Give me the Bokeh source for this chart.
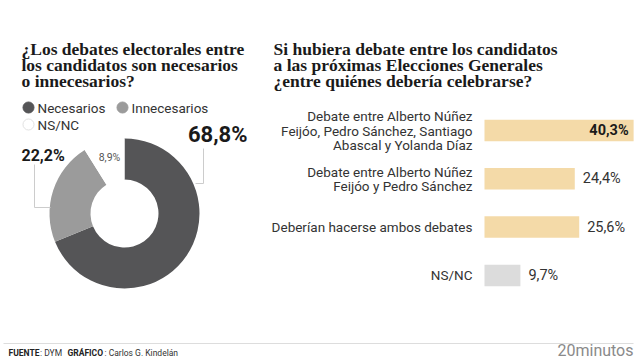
import numpy as np
from bokeh.plotting import figure
from bokeh.models import Range1d, ColumnDataSource
from bokeh.core.properties import value
from bokeh.embed import file_html
from bokeh.resources import INLINE

# ---------------- data ----------------
donut_labels = ["Necesarios", "Innecesarios", "NS/NC"]
donut_values = [68.8, 22.2, 8.9]
donut_colors = ["#555557", "#9b9b9b", "#ffffff"]

bar_labels = [
    ["Debate entre Alberto Núñez", "Feijóo, Pedro Sánchez, Santiago", "Abascal y Yolanda Díaz"],
    ["Debate entre Alberto Núñez", "Feijóo y Pedro Sánchez"],
    ["Deberían hacerse ambos debates"],
    ["NS/NC"],
]
bar_values = [40.3, 24.4, 25.6, 9.7]
bar_colors = ["#f4daa8", "#f4daa8", "#f4daa8", "#dcdcdc"]

title_left = ["¿Los debates electorales entre", "los candidatos son necesarios", "o innecesarios?"]
title_right = ["Si hubiera debate entre los candidatos", "a las próximas Elecciones Generales", "¿entre quiénes debería celebrarse?"]

def fmt(v):
    return f"{v:.1f}".replace(".", ",") + "%"

W, H = 640, 360
def Y(py):
    return H - py

p = figure(width=W, height=H, output_backend="svg", toolbar_location=None,
           x_range=Range1d(0, W), y_range=Range1d(0, H), min_border=0)
p.axis.visible = False
p.grid.visible = False
p.outline_line_color = None
p.background_fill_color = "white"
p.border_fill_color = "white"

SANS = "Roboto"
SERIF = "Liberation Serif"

def txt(x, y, s, size, color="#222222", font=SANS, style="normal", align="left", baseline="middle"):
    p.text(x=[x], y=[Y(y)], text=[s], text_font=value(font), text_font_size=f"{size}px",
           text_font_style=style, text_color=color, text_align=align, text_baseline=baseline)

# ---------------- titles ----------------
for i, line in enumerate(title_left):
    txt(21, 48 + i * 16, line, 17.5, "#1a1a1a", SERIF, "bold")
for i, line in enumerate(title_right):
    txt(273, 48 + i * 16, line, 17.5, "#1a1a1a", SERIF, "bold")

# ---------------- legend ----------------
leg_pos = [(28, 107), (122, 107), (28, 124)]
for (lx, ly), lab, col in zip(leg_pos, donut_labels, donut_colors):
    p.scatter(x=[lx], y=[Y(ly)], size=11, fill_color=col,
              line_color="#e2e2e2" if col == "#ffffff" else col, line_width=1)
    txt(lx + 9, ly, lab, 13.5, "#333333")

# ---------------- donut ----------------
cx, cy = 124, 213
fr = np.array(donut_values) / sum(donut_values)
cum = np.concatenate([[0], np.cumsum(fr)])
start = np.pi / 2 - 2 * np.pi * cum[:-1]
end = np.pi / 2 - 2 * np.pi * cum[1:]
src = ColumnDataSource(dict(start=start, end=end, color=donut_colors))
p.annular_wedge(x=cx, y=Y(cy), inner_radius=34, outer_radius=75,
                start_angle="start", end_angle="end", direction="clock",
                fill_color="color", line_color=None, source=src)

# leader lines
p.line(x=[203, 203, 195], y=[Y(148), Y(183), Y(183)], line_color="#cccccc", line_width=1)
p.line(x=[34, 34, 50], y=[Y(164), Y(207), Y(207)], line_color="#cccccc", line_width=1)

txt(247, 134, fmt(donut_values[0]), 22, "#1a1a1a", SANS, "bold", "right")
txt(21, 155, fmt(donut_values[1]), 16, "#1a1a1a", SANS, "bold", "left")
txt(109, 157, fmt(donut_values[2]), 10.5, "#555555", SANS, "normal", "center")

# ---------------- bars ----------------
BAR_X0 = 484
PX_PER = 3.7
s0 = -BAR_X0 / PX_PER
p.extra_x_ranges = {"pct": Range1d(s0, s0 + W / PX_PER)}
bar_y = [Y(130 + i * 48.3) for i in range(len(bar_values))]
bsrc = ColumnDataSource(dict(y=bar_y, right=bar_values, color=bar_colors))
p.hbar(y="y", left=0, right="right", height=21.5, fill_color="color", line_color=None,
       x_range_name="pct", source=bsrc)

for i, (labs, v) in enumerate(zip(bar_labels, bar_values)):
    cyb = 130 + i * 48.3
    n = len(labs)
    for j, l in enumerate(labs):
        txt(472, cyb + (j - (n - 1) / 2) * 14.5, l, 13.5, "#333333", SANS, "normal", "right")
    if i == 0:
        p.text(x=[v], y=[Y(cyb)], text=[fmt(v)], x_offset=-5, x_range_name="pct",
               text_font=value(SANS), text_font_size="14.5px", text_font_style="bold",
               text_color="#1a1a1a", text_align="right", text_baseline="middle")
    else:
        p.text(x=[v], y=[Y(cyb)], text=[fmt(v)], x_offset=8, x_range_name="pct",
               text_font=value(SANS), text_font_size="14.5px",
               text_color="#333333", text_align="left", text_baseline="middle")

# ---------------- footer ----------------
p.line(x=[3, 633], y=[Y(343), Y(343)], line_color="#dddddd", line_width=1)
txt(8, 352, "FUENTE", 8.5, "#222222", "Roboto", "bold")
txt(39.5, 352, ": DYM", 8.5, "#333333", "Roboto")
txt(67, 352, "GRÁFICO", 8.5, "#222222", "Roboto", "bold")
txt(104, 352, ": Carlos G. Kindelán", 8.5, "#333333", "Roboto")
txt(633, 349.5, "20minutos", 16, "#8a8a8a", "Roboto", "normal", "right")

open("out.html", "w").write(file_html(p, INLINE))
